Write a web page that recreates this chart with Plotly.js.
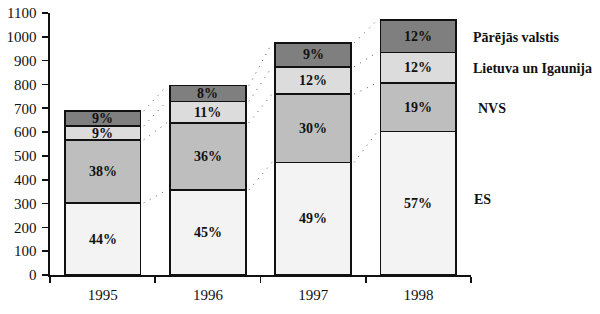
<!DOCTYPE html>
<html><head><meta charset="utf-8">
<script src="https://cdn.plot.ly/plotly-3.0.1.min.js"></script>
<style>html,body{margin:0;padding:0;background:#fff}#c{width:600px;height:314px}</style>
</head><body><div id="c"></div>
<script>
const years = ['1995', '1996', '1997', '1998'];
const es = [302, 357, 473, 602];
const nvs = [265, 282, 287, 205];
const li = [58, 90, 114, 128];
const other = [63, 66, 100, 135];
const esLbl = ['44%', '45%', '49%', '57%'];
const nvsLbl = ['38%', '36%', '30%', '19%'];
const liLbl = ['9%', '11%', '12%', '12%'];
const otherLbl = ['9%', '8%', '9%', '12%'];
const seriesNames = ['ES', 'NVS', 'Lietuva un Igaunija', 'Pārējās valstis'];

const series = [es, nvs, li, other];
const labels = [esLbl, nvsLbl, liLbl, otherLbl];
const fills = ['#f3f3f3', '#bebebe', '#dcdcdc', '#7f7f7f'];
const BW = 0.72;
const FONT = "'Liberation Serif', 'Times New Roman', serif";

const traces = series.map((v, k) => ({
  type: 'bar', x: years, y: v, name: seriesNames[k], width: BW,
  marker: {color: fills[k], line: {color: '#111', width: 1.6}},
  hoverinfo: 'skip'
}));

const cum = [];
let run = years.map(() => 0);
series.forEach(v => { run = run.map((r, i) => r + v[i]); cum.push(run.slice()); });

cum.forEach(lev => {
  for (let i = 0; i < years.length - 1; i++) {
    traces.push({type: 'scatter', mode: 'lines', xaxis: 'x2', x: [i + BW / 2 + 0.03, i + 1 - BW / 2 - 0.03],
      y: [lev[i], lev[i + 1]], line: {color: '#555', width: 1, dash: '1px,6px'}, showlegend: false, hoverinfo: 'skip'});
  }
});

const annotations = [];
series.forEach((v, k) => {
  v.forEach((val, i) => {
    const base = k === 0 ? 0 : cum[k - 1][i];
    annotations.push({x: i, xref: 'x2', y: base + val / 2, yref: 'y', text: '<b>' + labels[k][i] + '</b>', showarrow: false,
      font: {family: FONT, size: 14, color: '#111'}});
  });
});
const side = [
  {t: 'Pārējās valstis', y: 999, dx: 0},
  {t: 'Lietuva un Igaunija', y: 869, dx: 0},
  {t: 'NVS', y: 701, dx: 5},
  {t: 'ES', y: 315, dx: 1}
];
side.forEach(s => annotations.push({x: 1, xref: 'paper', xanchor: 'left', xshift: s.dx, y: s.y, yref: 'y', text: '<b>' + s.t + '</b>',
  showarrow: false, font: {family: FONT, size: 14, color: '#111'}}));

const layout = {
  width: 600, height: 314, margin: {l: 50, r: 129, t: 13, b: 39},
  paper_bgcolor: '#fff', plot_bgcolor: '#fff', barmode: 'stack', showlegend: false,
  font: {family: FONT, size: 15, color: '#111'},
  xaxis: {type: 'category', showline: true, linecolor: '#111', linewidth: 1.6, ticks: 'outside', tickson: 'boundaries',
          ticklen: 6, tickcolor: '#111', tickwidth: 1.6, ticklabelstandoff: 5, showgrid: false, zeroline: false,
          range: [-0.5, 3.5], fixedrange: true},
  xaxis2: {overlaying: 'x', range: [-0.5, 3.5], visible: false, fixedrange: true},
  yaxis: {range: [0, 1100], dtick: 100, showline: true, linecolor: '#111', linewidth: 1.6, ticks: 'outside', ticklen: 6,
          tickcolor: '#111', tickwidth: 1.6, ticklabelstandoff: 3, showgrid: false, zeroline: false, fixedrange: true},
  annotations: annotations
};
Plotly.newPlot('c', traces, layout, {displayModeBar: false, staticPlot: true});
</script></body></html>
